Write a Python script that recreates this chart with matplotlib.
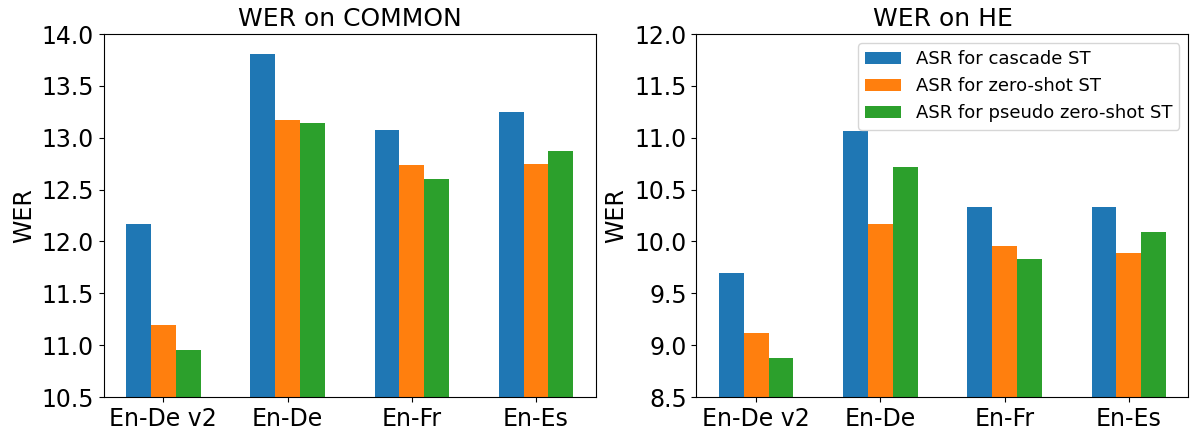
import numpy as np
import matplotlib
matplotlib.use("Agg")
import matplotlib.pyplot as plt

langs = ["En-De v2", "En-De", "En-Fr", "En-Es"]
series = ["ASR for cascade ST", "ASR for zero-shot ST", "ASR for pseudo zero-shot ST"]

common_cascade = [12.17, 13.81, 13.08, 13.25]
common_zeroshot = [11.19, 13.17, 12.74, 12.75]
common_pseudo = [10.95, 13.14, 12.60, 12.87]

he_cascade = [9.70, 11.07, 10.33, 10.33]
he_zeroshot = [9.12, 10.17, 9.96, 9.89]
he_pseudo = [8.88, 10.72, 9.83, 10.09]

colors = ["#1f77b4", "#ff7f0e", "#2ca02c"]

fig, axes = plt.subplots(1, 2, figsize=(11.92, 4.32), dpi=100)
fig.subplots_adjust(left=0.087, right=0.997, top=0.921, bottom=0.081, wspace=0.205)

x = np.arange(len(langs))
w = 0.2

panels = [
    (axes[0], "WER on COMMON", [common_cascade, common_zeroshot, common_pseudo], (10.5, 14.0)),
    (axes[1], "WER on HE", [he_cascade, he_zeroshot, he_pseudo], (8.5, 12.0)),
]

for ax, title, vals, ylim in panels:
    for i, (v, name) in enumerate(zip(vals, series)):
        ax.bar(x + (i - 1) * w, v, w, color=colors[i], label=name)
    ax.set_ylim(*ylim)
    ax.set_yticks(np.arange(ylim[0], ylim[1] + 0.01, 0.5))
    ax.set_xticks(x)
    ax.set_xticklabels(langs)
    ax.set_title(title, fontsize=18)
    ax.set_ylabel("WER", fontsize=17)
    ax.tick_params(labelsize=17)

axes[1].legend(loc="upper right", fontsize=13)

plt.savefig("out.png")
